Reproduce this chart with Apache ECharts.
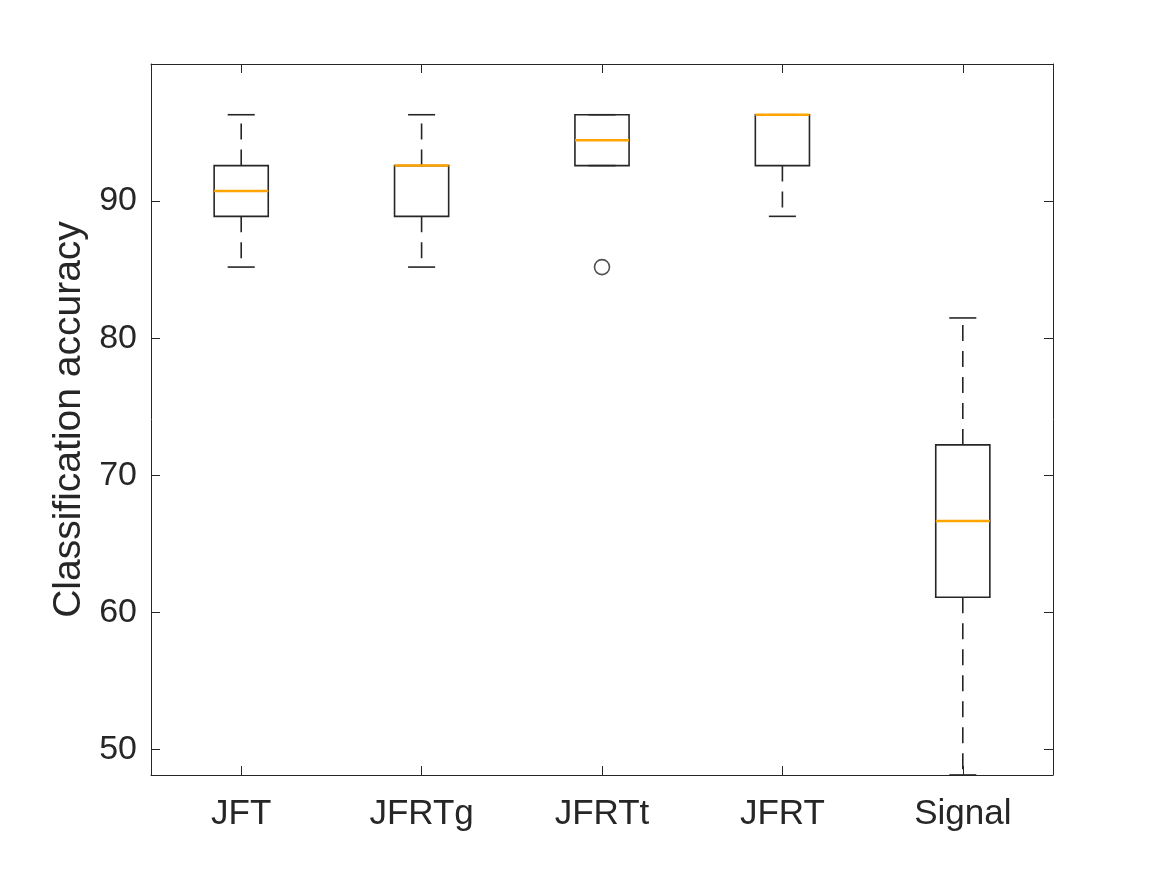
<!DOCTYPE html>
<html>
<head>
<meta charset="utf-8">
<script src="https://cdn.jsdelivr.net/npm/echarts@6/dist/echarts.min.js"></script>
<style>
  html, body { margin: 0; padding: 0; background: #fff; }
  #chart { width: 1163px; height: 872px; }
</style>
</head>
<body>
<div id="chart"></div>
<script>
var categories = ['JFT', 'JFRTg', 'JFRTt', 'JFRT', 'Signal'];
var lowerWhisker = [85.19, 85.19, 92.59, 88.89, 48.15];
var q1 = [88.89, 88.89, 92.59, 92.59, 61.11];
var median = [90.74, 92.59, 94.44, 96.30, 66.67];
var q3 = [92.59, 92.59, 96.30, 96.30, 72.22];
var upperWhisker = [96.30, 96.30, 96.30, 96.30, 81.48];
var outliers = [['JFRTt', 85.19]];
var yTicks = [50, 60, 70, 80, 90];
var yMin = 48.148;
var yMax = 100;

var ink = '#262626';
var font = "'Liberation Sans', Arial, Helvetica, sans-serif";

var boxData = categories.map(function (c, i) {
  return [i, lowerWhisker[i], q1[i], median[i], q3[i], upperWhisker[i]];
});

function renderBox(params, api) {
  var x = api.value(0);
  var band = api.size([1, 0])[0];
  var half = band * 0.15;
  var capHalf = half / 2;
  var pLow = api.coord([x, api.value(1)]);
  var pQ1 = api.coord([x, api.value(2)]);
  var pMed = api.coord([x, api.value(3)]);
  var pQ3 = api.coord([x, api.value(4)]);
  var pHigh = api.coord([x, api.value(5)]);
  var cx = pQ1[0];
  var lineStyle = { stroke: ink, lineWidth: 1.6, fill: null };
  var dashStyle = { stroke: ink, lineWidth: 1.6, lineDash: [16, 10] };
  return {
    type: 'group',
    children: [
      // whiskers (dashed), drawn from the box outwards
      { type: 'line', shape: { x1: cx, y1: pQ3[1], x2: cx, y2: pHigh[1] }, style: dashStyle },
      { type: 'line', shape: { x1: cx, y1: pQ1[1], x2: cx, y2: pLow[1] }, style: dashStyle },
      // caps
      { type: 'line', shape: { x1: cx - capHalf, y1: pHigh[1], x2: cx + capHalf, y2: pHigh[1] }, style: lineStyle },
      { type: 'line', shape: { x1: cx - capHalf, y1: pLow[1], x2: cx + capHalf, y2: pLow[1] }, style: lineStyle },
      // box
      { type: 'rect', shape: { x: cx - half, y: pQ3[1], width: half * 2, height: pQ1[1] - pQ3[1] }, style: { stroke: ink, lineWidth: 1.6, fill: null } },
      // median
      { type: 'line', shape: { x1: cx - half, y1: pMed[1], x2: cx + half, y2: pMed[1] }, style: { stroke: '#ffa500', lineWidth: 2.5 } }
    ]
  };
}

var chart = echarts.init(document.getElementById('chart'));
chart.setOption({
  backgroundColor: '#ffffff',
  animation: false,
  grid: { left: 151, right: 110, top: 64, bottom: 97 },
  xAxis: [{
    type: 'category',
    data: categories,
    position: 'bottom',
    axisLine: { lineStyle: { color: ink, width: 1 } },
    axisTick: { show: true, interval: 0, inside: true, length: 9, alignWithLabel: true, lineStyle: { color: ink, width: 1 } },
    axisLabel: { color: ink, fontSize: 35, fontFamily: font, margin: 22, interval: 0 },
    splitLine: { show: false }
  }, {
    type: 'category',
    data: categories,
    position: 'top',
    axisLine: { lineStyle: { color: ink, width: 1 } },
    axisTick: { show: true, interval: 0, inside: true, length: 9, alignWithLabel: true, lineStyle: { color: ink, width: 1 } },
    axisLabel: { show: false },
    splitLine: { show: false }
  }],
  yAxis: [{
    type: 'value',
    min: yMin,
    max: yMax,
    position: 'left',
    name: 'Classification accuracy',
    nameLocation: 'middle',
    nameGap: 62,
    nameTextStyle: { color: ink, fontSize: 39, fontFamily: font },
    axisLine: { show: true, lineStyle: { color: ink, width: 1 } },
    axisTick: { show: true, inside: true, length: 9, customValues: yTicks, lineStyle: { color: ink } },
    axisLabel: { color: ink, fontSize: 34, fontFamily: font, margin: 14, customValues: yTicks },
    splitLine: { show: false }
  }, {
    type: 'value',
    min: yMin,
    max: yMax,
    position: 'right',
    axisLine: { show: true, lineStyle: { color: ink, width: 1 } },
    axisTick: { show: true, inside: true, length: 9, customValues: yTicks, lineStyle: { color: ink } },
    axisLabel: { show: false, customValues: yTicks },
    splitLine: { show: false }
  }],
  series: [{
    type: 'custom',
    name: 'box',
    xAxisIndex: 0,
    yAxisIndex: 0,
    renderItem: renderBox,
    encode: { x: 0, y: [1, 2, 3, 4, 5] },
    data: boxData,
    clip: false
  }, {
    type: 'scatter',
    name: 'outliers',
    xAxisIndex: 0,
    yAxisIndex: 0,
    symbol: 'circle',
    symbolSize: 15,
    itemStyle: { color: 'rgba(0,0,0,0)', borderColor: ink, borderWidth: 1.6 },
    data: outliers
  }]
});
</script>
</body>
</html>
